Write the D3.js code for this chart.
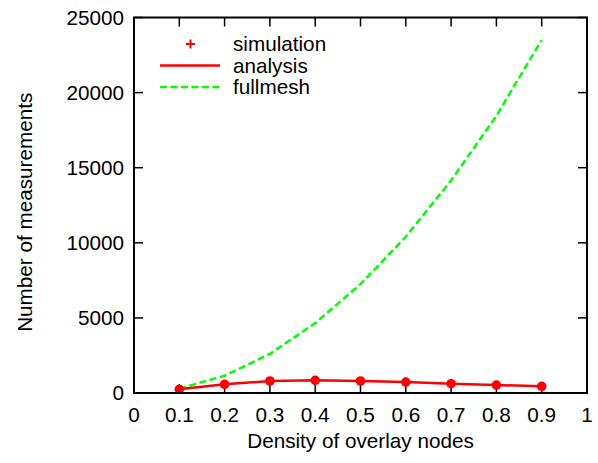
<!DOCTYPE html>
<html>
<head>
<meta charset="utf-8">
<script src="https://cdn.jsdelivr.net/npm/d3@7"></script>
<style>
  body { margin: 0; background: #fff; }
  svg { display: block; font-family: "Liberation Sans", Arial, sans-serif; }
</style>
</head>
<body>
<div id="chart"></div>
<script>
// data
var density = [0.1, 0.2, 0.3, 0.4, 0.5, 0.6, 0.7, 0.8, 0.9];
var simulation = [245, 580, 800, 845, 800, 730, 620, 530, 445];
var analysis = [245, 580, 800, 845, 800, 730, 620, 530, 445];
var fullmesh = [290, 1150, 2600, 4650, 7250, 10400, 14150, 18450, 23500];
var xTicks = [0, 0.1, 0.2, 0.3, 0.4, 0.5, 0.6, 0.7, 0.8, 0.9, 1];
var yTicks = [0, 5000, 10000, 15000, 20000, 25000];
var legendLabels = ["simulation", "analysis", "fullmesh"];

var width = 598, height = 463;
// plot box (note: "top" is taken by window.top, so use other names)
var pLeft = 134, pRight = 587, pTop = 17.5, pBottom = 393;
var fs = "20.7px";

var svg = d3.select("#chart").append("svg")
  .attr("width", width)
  .attr("height", height);

var x = d3.scaleLinear().domain([0, 1]).range([pLeft, pRight]);
var y = d3.scaleLinear().domain([0, 25000]).range([pBottom, pTop]);

// ticks, mirrored on all four sides, pointing inward
var tick = 9;
svg.append("g").selectAll("line")
  .data(xTicks).enter().append("line")
  .attr("x1", d => x(d)).attr("x2", d => x(d))
  .attr("y1", pBottom).attr("y2", pBottom - tick)
  .attr("stroke", "#000").attr("stroke-width", 1.5);
svg.append("g").selectAll("line")
  .data(xTicks).enter().append("line")
  .attr("x1", d => x(d)).attr("x2", d => x(d))
  .attr("y1", pTop).attr("y2", pTop + tick)
  .attr("stroke", "#000").attr("stroke-width", 1.5);
svg.append("g").selectAll("line")
  .data(yTicks).enter().append("line")
  .attr("x1", pLeft).attr("x2", pLeft + tick)
  .attr("y1", d => y(d)).attr("y2", d => y(d))
  .attr("stroke", "#000").attr("stroke-width", 1.5);
svg.append("g").selectAll("line")
  .data(yTicks).enter().append("line")
  .attr("x1", pRight).attr("x2", pRight - tick)
  .attr("y1", d => y(d)).attr("y2", d => y(d))
  .attr("stroke", "#000").attr("stroke-width", 1.5);

// tick labels
svg.append("g").selectAll("text")
  .data(xTicks).enter().append("text")
  .attr("x", d => x(d)).attr("y", 422)
  .attr("text-anchor", "middle")
  .style("font-size", fs)
  .text(d => d3.format("")(d));
svg.append("g").selectAll("text")
  .data(yTicks).enter().append("text")
  .attr("x", 124).attr("y", d => y(d))
  .attr("dy", "0.36em")
  .attr("text-anchor", "end")
  .style("font-size", fs)
  .text(d => d);

// axis titles
svg.append("text")
  .attr("x", (pLeft + pRight) / 2).attr("y", 448)
  .attr("text-anchor", "middle")
  .style("font-size", fs)
  .text("Density of overlay nodes");
svg.append("text")
  .attr("transform", "translate(32," + ((pTop + pBottom) / 2 + 7) + ") rotate(-90)")
  .attr("text-anchor", "middle")
  .style("font-size", fs)
  .text("Number of measurements");

// series
var line = d3.line()
  .x(d => x(d[0]))
  .y(d => y(d[1]));

svg.append("path")
  .datum(d3.zip(density, fullmesh))
  .attr("d", line)
  .attr("fill", "none")
  .attr("stroke", "#00ff00")
  .attr("stroke-width", 2.5)
  .attr("stroke-dasharray", "7,3.5");

svg.append("path")
  .datum(d3.zip(density, analysis))
  .attr("d", line)
  .attr("fill", "none")
  .attr("stroke", "#ff0000")
  .attr("stroke-width", 2.5);

svg.append("g").selectAll("circle")
  .data(d3.zip(density, simulation)).enter().append("circle")
  .attr("cx", d => x(d[0]))
  .attr("cy", d => y(d[1]))
  .attr("r", 4.8)
  .attr("fill", "#ff0000");

// border
svg.append("rect")
  .attr("x", pLeft).attr("y", pTop)
  .attr("width", pRight - pLeft).attr("height", pBottom - pTop)
  .attr("fill", "none")
  .attr("stroke", "#000")
  .attr("stroke-width", 2);

// legend
var lg = svg.append("g");
var rowY = [44, 65.5, 87];
lg.append("path")
  .attr("d", "M186," + rowY[0] + "h9M190.5," + (rowY[0] - 4.5) + "v9")
  .attr("stroke", "#ff0000").attr("stroke-width", 2);
lg.append("line")
  .attr("x1", 160).attr("x2", 220)
  .attr("y1", rowY[1]).attr("y2", rowY[1])
  .attr("stroke", "#ff0000").attr("stroke-width", 2.5);
lg.append("line")
  .attr("x1", 160).attr("x2", 220)
  .attr("y1", rowY[2]).attr("y2", rowY[2])
  .attr("stroke", "#00ff00").attr("stroke-width", 2.5)
  .attr("stroke-dasharray", "7,3.5");
lg.selectAll("text")
  .data(legendLabels).enter().append("text")
  .attr("x", 233)
  .attr("y", (d, i) => rowY[i])
  .attr("dy", "0.36em")
  .style("font-size", fs)
  .text(d => d);
</script>
</body>
</html>
